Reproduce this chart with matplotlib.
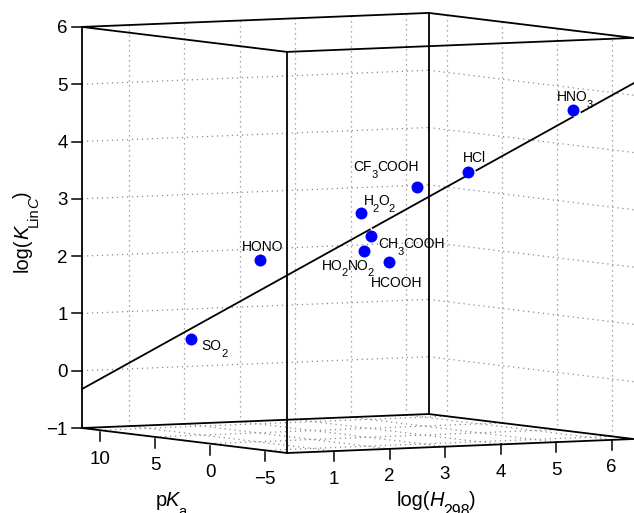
import re
import numpy as np
import matplotlib
matplotlib.use('Agg')
import matplotlib.pyplot as plt

plt.rcParams['font.family'] = ['Liberation Sans', 'DejaVu Sans']

# data
species = ['HNO_3', 'HCl', 'CF_3COOH', 'H_2O_2', 'CH_3COOH',
	'HO_2NO_2', 'HCOOH', 'HONO', 'SO_2']
pka = [-1.4, -6.0, 0.5, 11.6, 4.76, 5.85, 3.75, 3.3, 1.8]
logh = [6.41, 3.61, 3.99, 5.18, 4.00, 4.08, 4.12, 1.71, 0.16]
logk = [4.61, 3.75, 3.31, 2.55, 2.36, 2.08, 1.92, 2.07, 0.78]

# fit line, nan where it is broken
fit_pka = [11.64, 1.915, np.nan, 1.815, -1.384, np.nan, -1.687, -4.94, np.nan, -5.235, -7.0]
fit_logh = [0.153, 3.412, np.nan, 3.446, 4.518, np.nan, 4.620, 5.710, np.nan, 5.808, 6.4]
fit_logk = [-0.32, 2.565, np.nan, 2.595, 3.544, np.nan, 3.634, 4.599, np.nan, 4.686, 5.21]

pka_ticks = [10, 5, 0, -5]
logh_ticks = [1, 2, 3, 4, 5, 6]
logk_ticks = [6, 5, 4, 3, 2, 1, 0, -1]

pka_lim = (-7.0, 11.64)
logh_lim = (0.153, 6.4)
logk_lim = (-1, 6)

# label offsets from the marker, pixels
label_off = [(-16, -9), (-5, -10), (-64, -16), (2, -8), (7, 12), (-42, 19), (-18, 25), (-18, -9), (11, 11)]


def project(p, h, z):
	p = np.asarray(p, dtype=float)
	h = np.asarray(h, dtype=float)
	z = np.asarray(z, dtype=float)
	dp = p - pka_lim[0]
	dh = h - logh_lim[0]
	x = 287 + 55.5 * dh - 11.0 * dp
	y = 453 - 1.34 * dp - 2.24 * dh - 57.3 * (z + 1)
	return x, y


def line3d(ax, p, h, z, **kw):
	x, y = project(p, h, z)
	ax.plot(x, y, **kw)


def rich_text(ax, x, y, pieces, size, sub_size, drop, vertical=False, tight=0.5):
	# pieces are (string, is_sub, is_italic); subscripts sit lower than mathtext puts them
	renderer = ax.figure.canvas.get_renderer()
	for s, is_sub, is_it in pieces:
		xi, yi = x, y
		if is_sub:
			if vertical:
				xi = x + drop
			else:
				yi = y + drop
		t = ax.text(xi, yi, s, fontsize=sub_size if is_sub else size,
			style='italic' if is_it else 'normal', ha='left', va='baseline',
			rotation=90 if vertical else 0, rotation_mode='anchor', zorder=5, clip_on=False)
		box = t.get_window_extent(renderer)
		if vertical:
			y -= box.height - tight
		else:
			x += box.width - tight


def species_pieces(name):
	pieces = []
	for part in re.split(r'(_\d)', name):
		if part.startswith('_'):
			pieces.append((part[1:], True, False))
		elif part:
			pieces.append((part, False, False))
	return pieces


fig = plt.figure(figsize=(6.34, 5.13), dpi=100)
ax = fig.add_axes([0, 0, 1, 1])
ax.set_xlim(0, 634)
ax.set_ylim(513, 0)
ax.axis('off')

p0, p1 = pka_lim
h0, h1 = logh_lim
z0, z1 = logk_lim

grid = dict(color='#8c8c8c', lw=0.9, ls=(0, (1, 3)), zorder=1)
for h in logh_ticks:
	line3d(ax, [p1, p1], [h, h], [z0, z1], **grid)
	line3d(ax, [p0, p1], [h, h], [z0, z0], **grid)
for p in pka_ticks:
	line3d(ax, [p, p], [h1, h1], [z0, z1], **grid)
	line3d(ax, [p, p], [h0, h1], [z0, z0], **grid)
for z in logk_ticks[1:-1]:
	line3d(ax, [p1, p1], [h0, h1], [z, z], **grid)
	line3d(ax, [p1, p0], [h1, h1], [z, z], **grid)

# box
box = dict(color='black', lw=1.3, zorder=2, solid_capstyle='round')
for z in [z0, z1]:
	line3d(ax, [p1, p0, p0, p1, p1], [h0, h0, h1, h1, h0], [z] * 5, **box)
line3d(ax, [p1, p1], [h0, h0], [z0, z1], **box)
line3d(ax, [p0, p0], [h0, h0], [z0, z1], **box)
line3d(ax, [p1, p1], [h1, h1], [z0, z1], **box)

line3d(ax, fit_pka, fit_logh, fit_logk, color='black', lw=1.3, zorder=3)

# ticks and tick labels
tick = dict(color='black', lw=1.1, zorder=2)
for z in logk_ticks:
	x, y = project(p1, h0, z)
	ax.plot([x - 10, x], [y, y], **tick)
	ax.text(x - 14, y, str(z).replace('-', '\u2212'), ha='right', va='center_baseline', fontsize=13.5)
for p in pka_ticks:
	x, y = project(p, h0, z0)
	ax.plot([x, x], [y + 2, y + 11], **tick)
	ax.text(x, y + 27, str(p).replace('-', '\u2212'), ha='center', va='center_baseline', fontsize=13.5)
for h in logh_ticks:
	x, y = project(p0, h, z0)
	ax.plot([x, x], [y, y + 10], **tick)
	ax.text(x, y + 26, str(h), ha='center', va='center_baseline', fontsize=13.5)

# axis labels
rich_text(ax, 155.5, 506, [('p', False, False), ('K', False, True), ('a', True, False)], 14.4, 10.5, 10, tight=1)
rich_text(ax, 397, 506, [('log(', False, False), ('H', False, True), ('298', True, False), (')', False, False)], 14.4, 11.5, 10, tight=1)
rich_text(ax, 28, 271.5, [('log(', False, False), ('K', False, True), ('Lin', True, False), ('C', True, True), (')', False, False)],
	14.4, 10.5, 10, vertical=True, tight=1)

# points
x, y = project(pka, logh, logk)
ax.plot(x, y, 'o', color='#0000ff', ms=8.6, mew=0, zorder=4)
for name, xi, yi, off in zip(species, x, y, label_off):
	rich_text(ax, xi + off[0], yi + off[1], species_pieces(name), 10, 8, 6.5)

fig.savefig('out.png', dpi=100)
